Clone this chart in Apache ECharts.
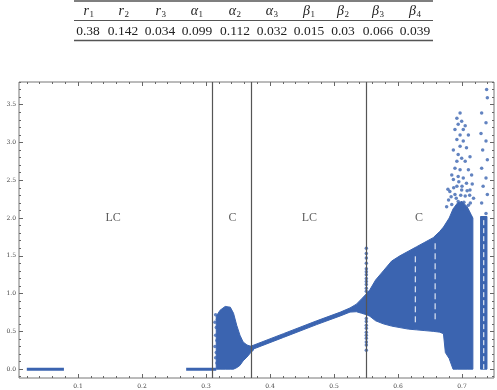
<!DOCTYPE html>
<html>
<head>
<meta charset="utf-8">
<script src="https://cdn.jsdelivr.net/npm/echarts@6/dist/echarts.min.js"></script>
<style>
html, body { margin: 0; padding: 0; background: #fff; }
#main { width: 497px; height: 390px; }
</style>
</head>
<body>
<div id="main"></div>
<script>
// parameter table
var paramSymbols = ['r', 'r', 'r', 'α', 'α', 'α', 'β', 'β', 'β', 'β'];
var paramSubs = ['1', '2', '3', '1', '2', '3', '1', '2', '3', '4'];
var paramValues = ['0.38', '0.142', '0.034', '0.099', '0.112', '0.032', '0.015', '0.03', '0.066', '0.039'];

// axis tick labels
var xTickLabels = [0.1, 0.2, 0.3, 0.4, 0.5, 0.6, 0.7];
var yTickLabels = [0.0, 0.5, 1.0, 1.5, 2.0, 2.5, 3.0, 3.5];

// regime boundaries and names
var boundaries = [0.311, 0.372, 0.551];
var regionNames = ['LC', 'C', 'LC', 'C'];
var regionX = [0.155, 0.3415, 0.4615, 0.633];
var regionY = [2.0, 2.0, 2.0, 2.0];

// stable branch at zero
var eqStart = [0.02, 0.269];
var eqEnd = [0.078, 0.316];

// first chaotic blob
var blobX = [0.316, 0.322, 0.330, 0.338, 0.343, 0.348, 0.353, 0.358, 0.364, 0.371, 0.374];
var blobHi = [0.70, 0.78, 0.83, 0.82, 0.74, 0.58, 0.45, 0.36, 0.32, 0.30, 0.30];
var blobLo = [0.00, 0.00, 0.00, 0.00, 0.00, 0.02, 0.05, 0.11, 0.16, 0.23, 0.25];
var blobEdgeX = [0.315, 0.314, 0.316, 0.315, 0.317, 0.314, 0.316, 0.315, 0.317, 0.318];
var blobEdgeY = [0.72, 0.62, 0.55, 0.45, 0.38, 0.30, 0.22, 0.15, 0.08, 0.66];

// limit cycle branch
var lcX = [0.369, 0.421, 0.473, 0.510, 0.525, 0.535, 0.543, 0.551];
var lcHi = [0.30, 0.47, 0.64, 0.755, 0.81, 0.86, 0.93, 1.00];
var lcLo = [0.25, 0.42, 0.59, 0.705, 0.755, 0.76, 0.74, 0.72];

// column of points at the third boundary
var colY = [1.60, 1.53, 1.47, 1.40, 1.33, 1.29, 1.25, 1.20, 1.16, 1.12, 1.07, 1.03,
            0.67, 0.63, 0.58, 0.54, 0.49, 0.45, 0.41, 0.36, 0.32, 0.25];

// second chaotic band
var bandX = [0.551, 0.556, 0.565, 0.577, 0.590, 0.603, 0.616, 0.629, 0.642, 0.655, 0.665, 0.671, 0.674, 0.680, 0.686, 0.693, 0.700, 0.708, 0.714, 0.717];
var bandHi = [1.00, 1.05, 1.18, 1.30, 1.43, 1.50, 1.56, 1.62, 1.68, 1.74, 1.82, 1.88, 1.92, 2.00, 2.12, 2.20, 2.22, 2.15, 2.05, 2.00];
var bandLo = [0.72, 0.70, 0.64, 0.60, 0.57, 0.55, 0.53, 0.52, 0.51, 0.50, 0.49, 0.47, 0.22, 0.14, 0.00, 0.00, 0.00, 0.00, 0.00, 0.00];

// periodic windows (white gaps)
var windowX = [0.627, 0.658];
var windowLo = [0.62, 0.66];
var windowHi = [1.54, 1.67];

// sparse points above the band
var upperX = [0.697, 0.692, 0.6995, 0.694, 0.689, 0.702, 0.705, 0.697, 0.710, 0.692, 0.702, 0.697, 0.6865, 0.707,
              0.694, 0.6995, 0.692, 0.705, 0.7125, 0.689, 0.697, 0.710, 0.684, 0.694, 0.702, 0.715, 0.6865, 0.707,
              0.692, 0.6995, 0.681, 0.7125, 0.689, 0.705, 0.718, 0.679, 0.694, 0.710, 0.676, 0.683, 0.698, 0.700,
              0.687, 0.713, 0.716, 0.678, 0.695, 0.708, 0.703, 0.684, 0.691, 0.700, 0.712];
var upperY = [3.39, 3.32, 3.28, 3.24, 3.17, 3.17, 3.22, 3.10, 3.10, 3.04, 3.02, 2.95, 2.90, 2.93,
              2.84, 2.79, 2.75, 2.75, 2.81, 2.66, 2.64, 2.64, 2.57, 2.55, 2.53, 2.57, 2.51, 2.46,
              2.42, 2.37, 2.35, 2.37, 2.31, 2.29, 2.26, 2.24, 2.22, 2.17, 2.15, 2.28, 2.30, 2.42,
              2.40, 2.20, 2.45, 2.38, 2.48, 2.36, 2.21, 2.18, 2.26, 2.12, 2.30];

// far right column
var farBandX = [0.729, 0.739];
var farBandHi = [2.02, 2.02];
var farBandLo = [0.0, 0.0];
var farX = [0.7385, 0.7396, 0.7307, 0.7375, 0.7297, 0.7375, 0.7323, 0.7396, 0.7307, 0.7375, 0.733, 0.7396, 0.7307, 0.7375];
var farY = [3.70, 3.59, 3.39, 3.26, 3.12, 3.02, 2.90, 2.77, 2.66, 2.53, 2.42, 2.31, 2.20, 2.06];

var BLUE = '#3b64b0';
var X_MIN = 0.0078, X_MAX = 0.75;
var Y_MIN = -0.117, Y_MAX = 3.8;

var xMinor = [], yMinor = [];
for (var i = 1; i <= 37; i++) xMinor.push(Math.round(i * 2) / 100);
for (var j = -1; j <= 38; j++) yMinor.push(Math.round(j * 10) / 100);

function pairs(xs, ys) {
  return xs.map(function (x, k) { return [x, ys[k]]; });
}

function bandSeries(xs, lo, hi) {
  return {
    type: 'custom',
    silent: true,
    z: 2,
    data: xs.map(function (x, k) { return [x, lo[k], hi[k]]; }),
    encode: { x: 0, y: [1, 2] },
    renderItem: function (params, api) {
      if (params.dataIndex !== 0) return null;
      var pts = [];
      for (var a = 0; a < xs.length; a++) pts.push(api.coord([xs[a], hi[a]]));
      for (var b = xs.length - 1; b >= 0; b--) pts.push(api.coord([xs[b], lo[b]]));
      return { type: 'polygon', shape: { points: pts }, style: { fill: BLUE, stroke: BLUE, lineWidth: 1 } };
    }
  };
}

function xAxisDef(pos, ticks, len, labels) {
  return {
    type: 'value', position: pos, min: X_MIN, max: X_MAX,
    axisLine: { show: false, onZero: false },
    splitLine: { show: false },
    axisTick: { show: true, inside: true, length: len, customValues: ticks, lineStyle: { color: '#666', width: 1 } },
    axisLabel: labels ? {
      show: true, customValues: labels, margin: 5, fontSize: 6, color: '#444', fontFamily: 'DejaVu Serif',
      formatter: function (v) { return v.toFixed(1); }
    } : { show: false }
  };
}

function yAxisDef(pos, ticks, len, labels) {
  return {
    type: 'value', position: pos, min: Y_MIN, max: Y_MAX,
    axisLine: { show: false, onZero: false },
    splitLine: { show: false },
    axisTick: { show: true, inside: true, length: len, customValues: ticks, lineStyle: { color: '#666', width: 1 } },
    axisLabel: labels ? {
      show: true, customValues: labels, margin: 3, fontSize: 6, color: '#444', fontFamily: 'DejaVu Serif',
      formatter: function (v) { return v.toFixed(1); }
    } : { show: false }
  };
}

// table drawn with graphic elements
var colCenters = [88, 123, 160, 197, 235, 272, 309, 343, 378, 415];
var tableGraphic = [
  { type: 'line', shape: { x1: 74, y1: 1, x2: 433, y2: 1 }, style: { stroke: '#555', lineWidth: 1.5 } },
  { type: 'line', shape: { x1: 74, y1: 20.5, x2: 433, y2: 20.5 }, style: { stroke: '#555', lineWidth: 1 } },
  { type: 'line', shape: { x1: 74, y1: 40.5, x2: 433, y2: 40.5 }, style: { stroke: '#555', lineWidth: 1.5 } }
];
colCenters.forEach(function (cx, k) {
  tableGraphic.push({
    type: 'text', x: cx + 1, y: 11,
    style: { text: paramSymbols[k], fontFamily: 'Liberation Serif', fontSize: 14, fontStyle: 'italic', fill: '#222', align: 'right', verticalAlign: 'middle' }
  });
  tableGraphic.push({
    type: 'text', x: cx + 1.5, y: 15,
    style: { text: paramSubs[k], fontFamily: 'Liberation Serif', fontSize: 9, fill: '#222', align: 'left', verticalAlign: 'middle' }
  });
  tableGraphic.push({
    type: 'text', x: cx, y: 31,
    style: { text: paramValues[k], fontFamily: 'Liberation Serif', fontSize: 13.5, fill: '#222', align: 'center', verticalAlign: 'middle' }
  });
});

var chart = echarts.init(document.getElementById('main'), null, { renderer: 'canvas' });

var series = [
  bandSeries(blobX, blobLo, blobHi),
  bandSeries(lcX, lcLo, lcHi),
  bandSeries(bandX, bandLo, bandHi),
  bandSeries(farBandX, farBandLo, farBandHi)
];
eqStart.forEach(function (s, k) {
  series.push({
    type: 'line', z: 3, symbol: 'none', silent: true,
    data: [[s, 0], [eqEnd[k], 0]],
    lineStyle: { color: BLUE, width: 3 }
  });
});
windowX.forEach(function (wx, k) {
  series.push({
    type: 'line', z: 4, symbol: 'none', silent: true,
    data: [[wx, windowLo[k]], [wx, windowHi[k]]],
    lineStyle: { color: '#fff', width: 1, type: [6, 4] }
  });
});
series.push({
  type: 'line', z: 4, symbol: 'none', silent: true,
  data: [[0.734, 0.0], [0.734, 2.0]],
  lineStyle: { color: '#fff', width: 1, type: [5, 3] }
});
series.push({
  type: 'scatter', z: 3, silent: true, symbolSize: 3.5,
  itemStyle: { color: BLUE },
  data: pairs(blobEdgeX, blobEdgeY)
    .concat(colY.map(function (y) { return [boundaries[2] - 0.0005, y]; }))
    .concat(pairs(upperX, upperY))
    .concat(pairs(farX, farY))
});
series.push({
  type: 'scatter', z: 10, silent: true, symbolSize: 1,
  itemStyle: { color: 'rgba(0,0,0,0)' },
  data: regionX.map(function (x, k) { return [x, regionY[k], regionNames[k]]; }),
  label: {
    show: true, position: 'inside', fontSize: 12, color: '#333', fontFamily: 'Liberation Serif',
    formatter: function (p) { return p.value[2]; }
  },
  markLine: {
    silent: true, symbol: ['none', 'none'],
    label: { show: false },
    lineStyle: { color: '#555', width: 1.2, type: 'solid' },
    data: boundaries.map(function (b) { return { xAxis: b }; })
  }
});

chart.setOption({
  animation: false,
  backgroundColor: '#fff',
  grid: { left: 19, right: 3, top: 82, bottom: 12, show: true, borderColor: '#777', borderWidth: 1, backgroundColor: 'transparent' },
  xAxis: [
    xAxisDef('bottom', xTickLabels, 4, xTickLabels),
    xAxisDef('bottom', xMinor, 2, null),
    xAxisDef('top', xTickLabels, 4, null),
    xAxisDef('top', xMinor, 2, null)
  ],
  yAxis: [
    yAxisDef('left', yTickLabels, 4, yTickLabels),
    yAxisDef('left', yMinor, 2, null),
    yAxisDef('right', yTickLabels, 4, null),
    yAxisDef('right', yMinor, 2, null)
  ],
  graphic: tableGraphic,
  series: series
});
</script>
</body>
</html>
